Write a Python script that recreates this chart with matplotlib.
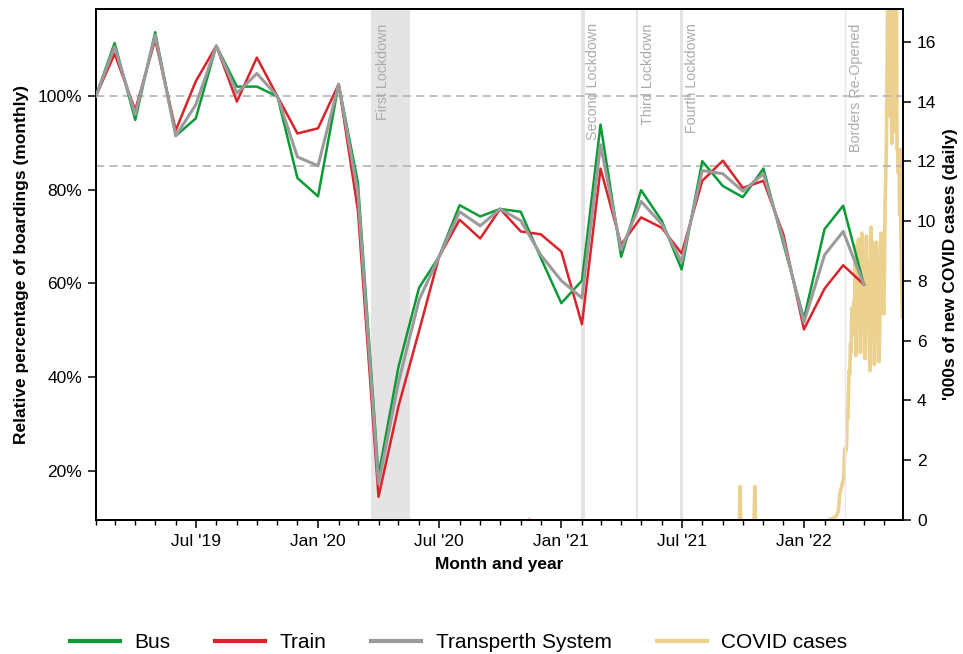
import matplotlib
matplotlib.use("Agg")
import matplotlib.pyplot as plt
import matplotlib.dates as mdates
from matplotlib.ticker import FuncFormatter, MultipleLocator
from matplotlib.lines import Line2D
import numpy as np
import pandas as pd

plt.rcParams['font.family'] = ['Liberation Sans', 'DejaVu Sans']

# Monthly boardings relative to February 2019 (%)
months = pd.date_range('2019-02-01', '2022-04-01', freq='MS')
bus = [100.0, 111.3, 94.9, 113.6, 91.5, 95.2, 110.7, 102.0, 102.0, 99.9, 82.5, 78.6,
       102.5, 81.5, 19.0, 42.2, 59.1, 65.7, 76.7, 74.3, 75.9, 75.3, 65.5, 55.8,
       60.6, 93.9, 65.7, 79.9, 73.4, 63.0, 86.1, 80.8, 78.4, 84.5, 68.5, 52.5,
       71.6, 76.6, 59.8]
train = [100.0, 109.0, 97.0, 112.0, 92.7, 103.1, 110.7, 98.8, 108.2, 99.9, 92.0, 93.1,
         102.5, 75.6, 14.5, 33.8, 49.9, 65.7, 73.6, 69.6, 75.9, 71.1, 70.5, 66.8,
         51.3, 84.5, 68.3, 74.1, 71.9, 66.4, 81.9, 86.2, 80.4, 81.9, 70.5, 50.2,
         58.9, 63.9, 59.8]
system = [100.0, 110.5, 96.0, 113.0, 91.5, 98.1, 110.7, 100.6, 104.8, 99.9, 87.0, 85.1,
          102.5, 79.3, 17.3, 38.9, 56.5, 65.7, 75.3, 72.3, 75.9, 73.4, 66.1, 60.6,
          56.9, 89.6, 67.2, 77.5, 72.7, 64.6, 84.1, 83.4, 79.7, 83.4, 69.3, 51.7,
          66.1, 71.1, 59.8]

# New daily COVID cases ('000s) before 2022; NaN marks days with no new cases
covid_early_dates = ['2020-03-26', '2020-03-27', '2020-03-28', '2020-03-29',
                     '2020-11-13', '2020-11-14', '2020-11-15', '2020-11-16',
                     '2021-09-26', '2021-09-27', '2021-09-28', '2021-09-29',
                     '2021-10-18', '2021-10-19', '2021-10-20', '2021-10-21']
covid_early = [0.0, 0.03, 0.0, np.nan,
               0.0, 0.02, 0.0, np.nan,
               0.0, 1.12, 0.0, np.nan,
               0.0, 1.12, 0.0, np.nan]
# daily readings from 9 Feb 2022 onwards
covid_2022_start = '2022-02-09'
covid_2022 = [0.02, 0.02, 0.03, 0.04, 0.05, 0.05, 0.07, 0.08, 0.10, 0.12,
              0.15, 0.20, 0.25, 0.35, 0.60, 0.85, 1.00, 1.05, 1.15, 1.25,
              1.30, 1.50, 2.20, 2.40, 2.30, 2.50, 3.50, 3.40, 4.40, 5.00,
              4.90, 5.90, 5.60, 7.10, 7.00, 6.60, 7.30, 6.20, 8.80, 5.50,
              6.30, 9.20, 7.80, 9.40, 8.40, 8.00, 5.60, 7.00, 9.60, 8.20, 9.00,
              7.60, 6.80, 5.40, 7.50, 9.50, 8.00, 8.60, 7.20, 6.50, 5.00,
              6.80, 9.80, 8.60, 9.30, 7.00, 6.30, 5.20, 6.00, 8.50, 9.30,
              7.60, 8.00, 6.90, 5.30, 6.50, 9.00, 9.60, 8.20, 8.80, 7.40,
              6.90, 8.20, 10.5, 11.4, 12.5, 15.0, 17.5, 14.2, 18.5, 19.0,
              13.5, 17.8, 12.6, 16.5, 18.0, 13.0, 17.8, 17.4, 13.6, 17.3,
              12.4, 12.3, 11.6, 12.2, 10.2, 12.4, 9.4, 8.0, 6.8]

# Lockdown periods and events
lockdown_names = ['First Lockdown', 'Second Lockdown', 'Third Lockdown', 'Fourth Lockdown']
lockdown_start = ['2020-03-21', '2021-01-31', '2021-04-24', '2021-06-29']
lockdown_end = ['2020-05-19', '2021-02-05', '2021-04-27', '2021-07-03']
border_name = 'Borders Re-Opened'
border_date = '2022-03-03'
reference_levels = [100, 85]

c_bus = '#0a9a36'
c_train = '#d9242b'
c_sys = '#9b9b9b'
c_covid = '#ebd08e'

fig = plt.figure(figsize=(9.63, 6.54), dpi=100)
ax = fig.add_axes([96 / 963, 1 - 520 / 654, (903 - 96) / 963, (520 - 9) / 654])
ax2 = ax.twinx()
ax.set_zorder(ax2.get_zorder() + 1)
ax.patch.set_visible(False)

# COVID cases on the secondary axis
early_x = list(pd.to_datetime(covid_early_dates))
late_x = list(pd.date_range(covid_2022_start, periods=len(covid_2022), freq='D'))
ax2.plot(early_x + late_x, covid_early + covid_2022, color=c_covid, lw=2.6)
ax2.set_ylim(0, 17.1)
ax2.yaxis.set_major_locator(MultipleLocator(2))
ax2.set_ylabel("'000s of new COVID cases (daily)", fontsize=12.5, fontweight='bold',
               labelpad=5)

# lockdown shading and labels
trans = ax.get_xaxis_transform()
for name, s, e in zip(lockdown_names, lockdown_start, lockdown_end):
    ax.axvspan(pd.Timestamp(s), pd.Timestamp(e), color='#e4e4e4', lw=0, zorder=0)
    ax.text(pd.Timestamp(s) + pd.Timedelta(days=17), 0.972, name, transform=trans,
            rotation=90, ha='center', va='top', fontsize=10.3, color='#ababab')
ax.axvline(pd.Timestamp(border_date), color='#e6e6e6', lw=1.0, zorder=0)
ax.text(pd.Timestamp(border_date) + pd.Timedelta(days=17), 0.972, border_name,
        transform=trans, rotation=90, ha='center', va='top', fontsize=10.3,
        color='#ababab')

for lvl in reference_levels:
    ax.axhline(lvl, color='#b4b4b4', lw=1.2, ls=(0, (5, 3)), zorder=1)

ax.plot(months, bus, color=c_bus, lw=1.8, zorder=3)
ax.plot(months, train, color=c_train, lw=1.8, zorder=3)
ax.plot(months, system, color=c_sys, lw=2.2, zorder=3)

ax.set_xlim(pd.Timestamp('2019-02-01'), pd.Timestamp('2022-05-30'))
ax.yaxis.set_major_locator(MultipleLocator(20))
ax.yaxis.set_major_formatter(FuncFormatter(lambda v, p: f'{v:.0f}%'))
ax.xaxis.set_major_locator(mdates.MonthLocator(bymonth=[1, 7]))
ax.xaxis.set_major_formatter(mdates.DateFormatter("%b '%y"))
ax.xaxis.set_minor_locator(mdates.MonthLocator())

ax.set_xlabel('Month and year', fontsize=12.5, fontweight='bold', labelpad=6)
ax.set_ylabel('Relative percentage of boardings (monthly)', fontsize=12.5,
              fontweight='bold', labelpad=6)

for a in (ax, ax2):
    a.tick_params(which='major', length=6, width=1.1, labelsize=12.5, pad=4)
    a.tick_params(which='minor', length=3.5, width=1.0)
    for sp in a.spines.values():
        sp.set_linewidth(1.4)

handles = [Line2D([], [], color=c_bus, lw=3),
           Line2D([], [], color=c_train, lw=3),
           Line2D([], [], color=c_sys, lw=3),
           Line2D([], [], color=c_covid, lw=3)]
labels = ['Bus', 'Train', 'Transperth System', 'COVID cases']
fig.legend(handles, labels, loc='center', bbox_to_anchor=(0.476, 0.017), ncol=4,
           frameon=False, fontsize=15, handlelength=2.4, columnspacing=2.15,
           handletextpad=0.7)

fig.savefig('out.png', dpi=100)
